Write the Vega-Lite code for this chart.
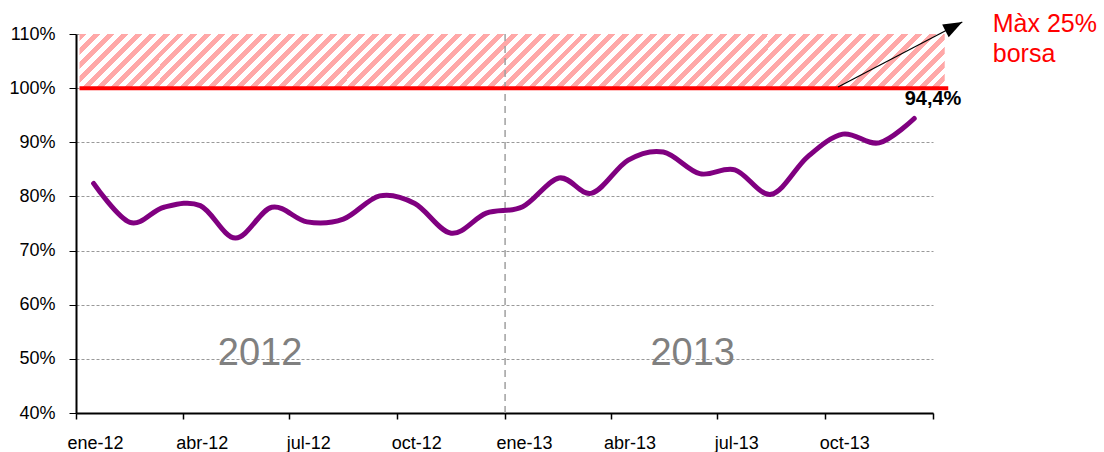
{
  "$schema": "https://vega.github.io/schema/vega-lite/v6.json",
  "width": 857,
  "height": 379,
  "autosize": "none",
  "padding": {"left": 76, "top": 34, "right": 171, "bottom": 39},
  "background": "white",
  "config": {"view": {"stroke": null}, "font": "Liberation Sans"},
  "datasets": {
    "serie": [
      {"fecha": "2012-01-16", "valor": 82.4},
      {"fecha": "2012-02-16", "valor": 75.2},
      {"fecha": "2012-03-16", "valor": 78.0},
      {"fecha": "2012-04-16", "valor": 78.3},
      {"fecha": "2012-05-16", "valor": 72.3},
      {"fecha": "2012-06-16", "valor": 78.0},
      {"fecha": "2012-07-16", "valor": 75.3},
      {"fecha": "2012-08-16", "valor": 75.8},
      {"fecha": "2012-09-16", "valor": 80.1},
      {"fecha": "2012-10-16", "valor": 78.7},
      {"fecha": "2012-11-16", "valor": 73.2},
      {"fecha": "2012-12-16", "valor": 76.9},
      {"fecha": "2013-01-16", "valor": 78.1},
      {"fecha": "2013-02-16", "valor": 83.4},
      {"fecha": "2013-03-16", "valor": 80.6},
      {"fecha": "2013-04-16", "valor": 86.7},
      {"fecha": "2013-05-16", "valor": 88.2},
      {"fecha": "2013-06-16", "valor": 84.2},
      {"fecha": "2013-07-16", "valor": 84.9},
      {"fecha": "2013-08-16", "valor": 80.4},
      {"fecha": "2013-09-16", "valor": 87.3},
      {"fecha": "2013-10-16", "valor": 91.5},
      {"fecha": "2013-11-16", "valor": 89.9},
      {"fecha": "2013-12-16", "valor": 94.4}
    ],
    "zona": [{"inicio": "2012-01-04", "fin": "2014-01-11", "min": 100, "max": 110}],
    "limite": [{"inicio": "2012-01-04", "fin": "2014-01-14", "valor": 100}],
    "corte": [{"fecha": "2013-01-01"}],
    "flecha": [{"x1": "2013-10-12", "y1": 100.2, "x2": "2014-01-26", "y2": 112.2}],
    "anios": [
      {"fecha": "2012-06-06", "valor": 48.9, "texto": "2012"},
      {"fecha": "2013-06-10", "valor": 48.9, "texto": "2013"}
    ],
    "etiqueta": [{"fecha": "2014-01-01", "valor": 96.8, "texto": "94,4%"}],
    "nota": [
      {"fecha": "2014-02-21", "valor": 110.3, "texto": "Màx 25%"},
      {"fecha": "2014-02-21", "valor": 104.8, "texto": "borsa"}
    ]
  },
  "layer": [
    {
      "data": {"name": "zona"},
      "mark": {
        "type": "rect",
        "strokeWidth": 0,
        "fill": {
          "gradient": "linear", "x1": 0, "y1": 0, "x2": 1.0584, "y2": 0.0661,
          "stops": [
            {"offset":0,"color":"#ffa8a8"},{"offset":0.0076,"color":"#ffa8a8"},{"offset":0.0076,"color":"#fff"},{"offset":0.0152,"color":"#fff"},
            {"offset":0.0152,"color":"#ffa8a8"},{"offset":0.0227,"color":"#ffa8a8"},{"offset":0.0227,"color":"#fff"},{"offset":0.0303,"color":"#fff"},
            {"offset":0.0303,"color":"#ffa8a8"},{"offset":0.0379,"color":"#ffa8a8"},{"offset":0.0379,"color":"#fff"},{"offset":0.0455,"color":"#fff"},
            {"offset":0.0455,"color":"#ffa8a8"},{"offset":0.0530,"color":"#ffa8a8"},{"offset":0.0530,"color":"#fff"},{"offset":0.0606,"color":"#fff"},
            {"offset":0.0606,"color":"#ffa8a8"},{"offset":0.0682,"color":"#ffa8a8"},{"offset":0.0682,"color":"#fff"},{"offset":0.0758,"color":"#fff"},
            {"offset":0.0758,"color":"#ffa8a8"},{"offset":0.0833,"color":"#ffa8a8"},{"offset":0.0833,"color":"#fff"},{"offset":0.0909,"color":"#fff"},
            {"offset":0.0909,"color":"#ffa8a8"},{"offset":0.0985,"color":"#ffa8a8"},{"offset":0.0985,"color":"#fff"},{"offset":0.1061,"color":"#fff"},
            {"offset":0.1061,"color":"#ffa8a8"},{"offset":0.1136,"color":"#ffa8a8"},{"offset":0.1136,"color":"#fff"},{"offset":0.1212,"color":"#fff"},
            {"offset":0.1212,"color":"#ffa8a8"},{"offset":0.1288,"color":"#ffa8a8"},{"offset":0.1288,"color":"#fff"},{"offset":0.1364,"color":"#fff"},
            {"offset":0.1364,"color":"#ffa8a8"},{"offset":0.1439,"color":"#ffa8a8"},{"offset":0.1439,"color":"#fff"},{"offset":0.1515,"color":"#fff"},
            {"offset":0.1515,"color":"#ffa8a8"},{"offset":0.1591,"color":"#ffa8a8"},{"offset":0.1591,"color":"#fff"},{"offset":0.1667,"color":"#fff"},
            {"offset":0.1667,"color":"#ffa8a8"},{"offset":0.1742,"color":"#ffa8a8"},{"offset":0.1742,"color":"#fff"},{"offset":0.1818,"color":"#fff"},
            {"offset":0.1818,"color":"#ffa8a8"},{"offset":0.1894,"color":"#ffa8a8"},{"offset":0.1894,"color":"#fff"},{"offset":0.1970,"color":"#fff"},
            {"offset":0.1970,"color":"#ffa8a8"},{"offset":0.2045,"color":"#ffa8a8"},{"offset":0.2045,"color":"#fff"},{"offset":0.2121,"color":"#fff"},
            {"offset":0.2121,"color":"#ffa8a8"},{"offset":0.2197,"color":"#ffa8a8"},{"offset":0.2197,"color":"#fff"},{"offset":0.2273,"color":"#fff"},
            {"offset":0.2273,"color":"#ffa8a8"},{"offset":0.2348,"color":"#ffa8a8"},{"offset":0.2348,"color":"#fff"},{"offset":0.2424,"color":"#fff"},
            {"offset":0.2424,"color":"#ffa8a8"},{"offset":0.2500,"color":"#ffa8a8"},{"offset":0.2500,"color":"#fff"},{"offset":0.2576,"color":"#fff"},
            {"offset":0.2576,"color":"#ffa8a8"},{"offset":0.2652,"color":"#ffa8a8"},{"offset":0.2652,"color":"#fff"},{"offset":0.2727,"color":"#fff"},
            {"offset":0.2727,"color":"#ffa8a8"},{"offset":0.2803,"color":"#ffa8a8"},{"offset":0.2803,"color":"#fff"},{"offset":0.2879,"color":"#fff"},
            {"offset":0.2879,"color":"#ffa8a8"},{"offset":0.2955,"color":"#ffa8a8"},{"offset":0.2955,"color":"#fff"},{"offset":0.3030,"color":"#fff"},
            {"offset":0.3030,"color":"#ffa8a8"},{"offset":0.3106,"color":"#ffa8a8"},{"offset":0.3106,"color":"#fff"},{"offset":0.3182,"color":"#fff"},
            {"offset":0.3182,"color":"#ffa8a8"},{"offset":0.3258,"color":"#ffa8a8"},{"offset":0.3258,"color":"#fff"},{"offset":0.3333,"color":"#fff"},
            {"offset":0.3333,"color":"#ffa8a8"},{"offset":0.3409,"color":"#ffa8a8"},{"offset":0.3409,"color":"#fff"},{"offset":0.3485,"color":"#fff"},
            {"offset":0.3485,"color":"#ffa8a8"},{"offset":0.3561,"color":"#ffa8a8"},{"offset":0.3561,"color":"#fff"},{"offset":0.3636,"color":"#fff"},
            {"offset":0.3636,"color":"#ffa8a8"},{"offset":0.3712,"color":"#ffa8a8"},{"offset":0.3712,"color":"#fff"},{"offset":0.3788,"color":"#fff"},
            {"offset":0.3788,"color":"#ffa8a8"},{"offset":0.3864,"color":"#ffa8a8"},{"offset":0.3864,"color":"#fff"},{"offset":0.3939,"color":"#fff"},
            {"offset":0.3939,"color":"#ffa8a8"},{"offset":0.4015,"color":"#ffa8a8"},{"offset":0.4015,"color":"#fff"},{"offset":0.4091,"color":"#fff"},
            {"offset":0.4091,"color":"#ffa8a8"},{"offset":0.4167,"color":"#ffa8a8"},{"offset":0.4167,"color":"#fff"},{"offset":0.4242,"color":"#fff"},
            {"offset":0.4242,"color":"#ffa8a8"},{"offset":0.4318,"color":"#ffa8a8"},{"offset":0.4318,"color":"#fff"},{"offset":0.4394,"color":"#fff"},
            {"offset":0.4394,"color":"#ffa8a8"},{"offset":0.4470,"color":"#ffa8a8"},{"offset":0.4470,"color":"#fff"},{"offset":0.4545,"color":"#fff"},
            {"offset":0.4545,"color":"#ffa8a8"},{"offset":0.4621,"color":"#ffa8a8"},{"offset":0.4621,"color":"#fff"},{"offset":0.4697,"color":"#fff"},
            {"offset":0.4697,"color":"#ffa8a8"},{"offset":0.4773,"color":"#ffa8a8"},{"offset":0.4773,"color":"#fff"},{"offset":0.4848,"color":"#fff"},
            {"offset":0.4848,"color":"#ffa8a8"},{"offset":0.4924,"color":"#ffa8a8"},{"offset":0.4924,"color":"#fff"},{"offset":0.5000,"color":"#fff"},
            {"offset":0.5000,"color":"#ffa8a8"},{"offset":0.5076,"color":"#ffa8a8"},{"offset":0.5076,"color":"#fff"},{"offset":0.5152,"color":"#fff"},
            {"offset":0.5152,"color":"#ffa8a8"},{"offset":0.5227,"color":"#ffa8a8"},{"offset":0.5227,"color":"#fff"},{"offset":0.5303,"color":"#fff"},
            {"offset":0.5303,"color":"#ffa8a8"},{"offset":0.5379,"color":"#ffa8a8"},{"offset":0.5379,"color":"#fff"},{"offset":0.5455,"color":"#fff"},
            {"offset":0.5455,"color":"#ffa8a8"},{"offset":0.5530,"color":"#ffa8a8"},{"offset":0.5530,"color":"#fff"},{"offset":0.5606,"color":"#fff"},
            {"offset":0.5606,"color":"#ffa8a8"},{"offset":0.5682,"color":"#ffa8a8"},{"offset":0.5682,"color":"#fff"},{"offset":0.5758,"color":"#fff"},
            {"offset":0.5758,"color":"#ffa8a8"},{"offset":0.5833,"color":"#ffa8a8"},{"offset":0.5833,"color":"#fff"},{"offset":0.5909,"color":"#fff"},
            {"offset":0.5909,"color":"#ffa8a8"},{"offset":0.5985,"color":"#ffa8a8"},{"offset":0.5985,"color":"#fff"},{"offset":0.6061,"color":"#fff"},
            {"offset":0.6061,"color":"#ffa8a8"},{"offset":0.6136,"color":"#ffa8a8"},{"offset":0.6136,"color":"#fff"},{"offset":0.6212,"color":"#fff"},
            {"offset":0.6212,"color":"#ffa8a8"},{"offset":0.6288,"color":"#ffa8a8"},{"offset":0.6288,"color":"#fff"},{"offset":0.6364,"color":"#fff"},
            {"offset":0.6364,"color":"#ffa8a8"},{"offset":0.6439,"color":"#ffa8a8"},{"offset":0.6439,"color":"#fff"},{"offset":0.6515,"color":"#fff"},
            {"offset":0.6515,"color":"#ffa8a8"},{"offset":0.6591,"color":"#ffa8a8"},{"offset":0.6591,"color":"#fff"},{"offset":0.6667,"color":"#fff"},
            {"offset":0.6667,"color":"#ffa8a8"},{"offset":0.6742,"color":"#ffa8a8"},{"offset":0.6742,"color":"#fff"},{"offset":0.6818,"color":"#fff"},
            {"offset":0.6818,"color":"#ffa8a8"},{"offset":0.6894,"color":"#ffa8a8"},{"offset":0.6894,"color":"#fff"},{"offset":0.6970,"color":"#fff"},
            {"offset":0.6970,"color":"#ffa8a8"},{"offset":0.7045,"color":"#ffa8a8"},{"offset":0.7045,"color":"#fff"},{"offset":0.7121,"color":"#fff"},
            {"offset":0.7121,"color":"#ffa8a8"},{"offset":0.7197,"color":"#ffa8a8"},{"offset":0.7197,"color":"#fff"},{"offset":0.7273,"color":"#fff"},
            {"offset":0.7273,"color":"#ffa8a8"},{"offset":0.7348,"color":"#ffa8a8"},{"offset":0.7348,"color":"#fff"},{"offset":0.7424,"color":"#fff"},
            {"offset":0.7424,"color":"#ffa8a8"},{"offset":0.7500,"color":"#ffa8a8"},{"offset":0.7500,"color":"#fff"},{"offset":0.7576,"color":"#fff"},
            {"offset":0.7576,"color":"#ffa8a8"},{"offset":0.7652,"color":"#ffa8a8"},{"offset":0.7652,"color":"#fff"},{"offset":0.7727,"color":"#fff"},
            {"offset":0.7727,"color":"#ffa8a8"},{"offset":0.7803,"color":"#ffa8a8"},{"offset":0.7803,"color":"#fff"},{"offset":0.7879,"color":"#fff"},
            {"offset":0.7879,"color":"#ffa8a8"},{"offset":0.7955,"color":"#ffa8a8"},{"offset":0.7955,"color":"#fff"},{"offset":0.8030,"color":"#fff"},
            {"offset":0.8030,"color":"#ffa8a8"},{"offset":0.8106,"color":"#ffa8a8"},{"offset":0.8106,"color":"#fff"},{"offset":0.8182,"color":"#fff"},
            {"offset":0.8182,"color":"#ffa8a8"},{"offset":0.8258,"color":"#ffa8a8"},{"offset":0.8258,"color":"#fff"},{"offset":0.8333,"color":"#fff"},
            {"offset":0.8333,"color":"#ffa8a8"},{"offset":0.8409,"color":"#ffa8a8"},{"offset":0.8409,"color":"#fff"},{"offset":0.8485,"color":"#fff"},
            {"offset":0.8485,"color":"#ffa8a8"},{"offset":0.8561,"color":"#ffa8a8"},{"offset":0.8561,"color":"#fff"},{"offset":0.8636,"color":"#fff"},
            {"offset":0.8636,"color":"#ffa8a8"},{"offset":0.8712,"color":"#ffa8a8"},{"offset":0.8712,"color":"#fff"},{"offset":0.8788,"color":"#fff"},
            {"offset":0.8788,"color":"#ffa8a8"},{"offset":0.8864,"color":"#ffa8a8"},{"offset":0.8864,"color":"#fff"},{"offset":0.8939,"color":"#fff"},
            {"offset":0.8939,"color":"#ffa8a8"},{"offset":0.9015,"color":"#ffa8a8"},{"offset":0.9015,"color":"#fff"},{"offset":0.9091,"color":"#fff"},
            {"offset":0.9091,"color":"#ffa8a8"},{"offset":0.9167,"color":"#ffa8a8"},{"offset":0.9167,"color":"#fff"},{"offset":0.9242,"color":"#fff"},
            {"offset":0.9242,"color":"#ffa8a8"},{"offset":0.9318,"color":"#ffa8a8"},{"offset":0.9318,"color":"#fff"},{"offset":0.9394,"color":"#fff"},
            {"offset":0.9394,"color":"#ffa8a8"},{"offset":0.9470,"color":"#ffa8a8"},{"offset":0.9470,"color":"#fff"},{"offset":0.9545,"color":"#fff"},
            {"offset":0.9545,"color":"#ffa8a8"},{"offset":0.9621,"color":"#ffa8a8"},{"offset":0.9621,"color":"#fff"},{"offset":0.9697,"color":"#fff"},
            {"offset":0.9697,"color":"#ffa8a8"},{"offset":0.9773,"color":"#ffa8a8"},{"offset":0.9773,"color":"#fff"},{"offset":0.9848,"color":"#fff"},
            {"offset":0.9848,"color":"#ffa8a8"},{"offset":0.9924,"color":"#ffa8a8"},{"offset":0.9924,"color":"#fff"},{"offset":1,"color":"#fff"}
          ]
        }
      },
      "encoding": {
        "x": {
          "field": "inicio", "type": "temporal",
          "scale": {"type": "utc", "domain": [{"year": 2012, "month": 1, "date": 1, "utc": true}, {"year": 2014, "month": 1, "date": 1, "utc": true}], "nice": false},
          "axis": {
            "title": null,
            "values": [
              {"year": 2012, "month": 1, "date": 1, "utc": true},
              {"year": 2012, "month": 4, "date": 1, "utc": true},
              {"year": 2012, "month": 7, "date": 1, "utc": true},
              {"year": 2012, "month": 10, "date": 1, "utc": true},
              {"year": 2013, "month": 1, "date": 1, "utc": true},
              {"year": 2013, "month": 4, "date": 1, "utc": true},
              {"year": 2013, "month": 7, "date": 1, "utc": true},
              {"year": 2013, "month": 10, "date": 1, "utc": true},
              {"year": 2014, "month": 1, "date": 1, "utc": true}
            ],
            "labelExpr": "utcyear(datum.value) > 2013 ? '' : ['ene','feb','mar','abr','may','jun','jul','ago','sep','oct','nov','dic'][utcmonth(datum.value)] + '-' + utcFormat(datum.value, '%y')",
            "labelOffset": 19,
            "labelFlush": false,
            "labelOverlap": false,
            "labelBound": false,
            "labelAngle": 0,
            "labelFont": "Liberation Sans",
            "labelFontSize": 18,
            "labelColor": "#000",
            "labelPadding": 15,
            "tickSize": 6,
            "tickColor": "#000",
            "tickWidth": 1.5,
            "domainColor": "#000",
            "domainWidth": 2,
            "grid": false
          }
        },
        "x2": {"field": "fin"},
        "y": {
          "field": "min", "type": "quantitative",
          "scale": {"domain": [40, 110], "nice": false, "zero": false},
          "axis": {
            "title": null,
            "values": [40, 50, 60, 70, 80, 90, 100, 110],
            "labelExpr": "datum.value + '%'",
            "labelFont": "Liberation Sans",
            "labelFontSize": 18,
            "labelColor": "#000",
            "labelPadding": 14,
            "tickSize": 7,
            "tickColor": "#000",
            "tickWidth": 1,
            "domainColor": "#000",
            "domainWidth": 2,
            "grid": true,
            "gridColor": "#999",
            "gridDash": [3, 2],
            "gridWidth": 1
          }
        },
        "y2": {"field": "max"}
      }
    },
    {
      "data": {"name": "corte"},
      "mark": {"type": "rule", "color": "#a0a0a0", "strokeWidth": 1.5, "strokeDash": [7, 5]},
      "encoding": {
        "x": {"field": "fecha", "type": "temporal"}
      }
    },
    {
      "data": {"name": "serie"},
      "mark": {"type": "line", "color": "#800080", "strokeWidth": 5, "interpolate": "cardinal", "strokeCap": "round", "strokeJoin": "round"},
      "encoding": {
        "x": {"field": "fecha", "type": "temporal"},
        "y": {"field": "valor", "type": "quantitative"}
      }
    },
    {
      "data": {"name": "limite"},
      "mark": {"type": "rule", "color": "#ff0000", "strokeWidth": 4},
      "encoding": {
        "x": {"field": "inicio", "type": "temporal"},
        "x2": {"field": "fin"},
        "y": {"field": "valor", "type": "quantitative"}
      }
    },
    {
      "data": {"name": "flecha"},
      "mark": {"type": "rule", "color": "#000", "strokeWidth": 1.2},
      "encoding": {
        "x": {"field": "x1", "type": "temporal"},
        "x2": {"field": "x2"},
        "y": {"field": "y1", "type": "quantitative"},
        "y2": {"field": "y2"}
      }
    },
    {
      "data": {"name": "flecha"},
      "mark": {"type": "point", "shape": "M0,0 L-2,-0.75 L-2,0.75 Z", "filled": true, "color": "#000", "size": 361, "angle": 332.7, "opacity": 1},
      "encoding": {
        "x": {"field": "x2", "type": "temporal"},
        "y": {"field": "y2", "type": "quantitative"}
      }
    },
    {
      "data": {"name": "anios"},
      "mark": {"type": "text", "font": "Liberation Sans", "fontSize": 38, "color": "#808080", "align": "center", "baseline": "alphabetic"},
      "encoding": {
        "x": {"field": "fecha", "type": "temporal"},
        "y": {"field": "valor", "type": "quantitative"},
        "text": {"field": "texto"}
      }
    },
    {
      "data": {"name": "etiqueta"},
      "mark": {"type": "text", "font": "Liberation Sans", "fontSize": 20, "fontWeight": "bold", "color": "#000", "align": "center", "baseline": "alphabetic"},
      "encoding": {
        "x": {"field": "fecha", "type": "temporal"},
        "y": {"field": "valor", "type": "quantitative"},
        "text": {"field": "texto"}
      }
    },
    {
      "data": {"name": "nota"},
      "mark": {"type": "text", "font": "Liberation Sans", "fontSize": 25, "color": "#ff0000", "align": "left", "baseline": "alphabetic"},
      "encoding": {
        "x": {"field": "fecha", "type": "temporal"},
        "y": {"field": "valor", "type": "quantitative"},
        "text": {"field": "texto"}
      }
    }
  ]
}
